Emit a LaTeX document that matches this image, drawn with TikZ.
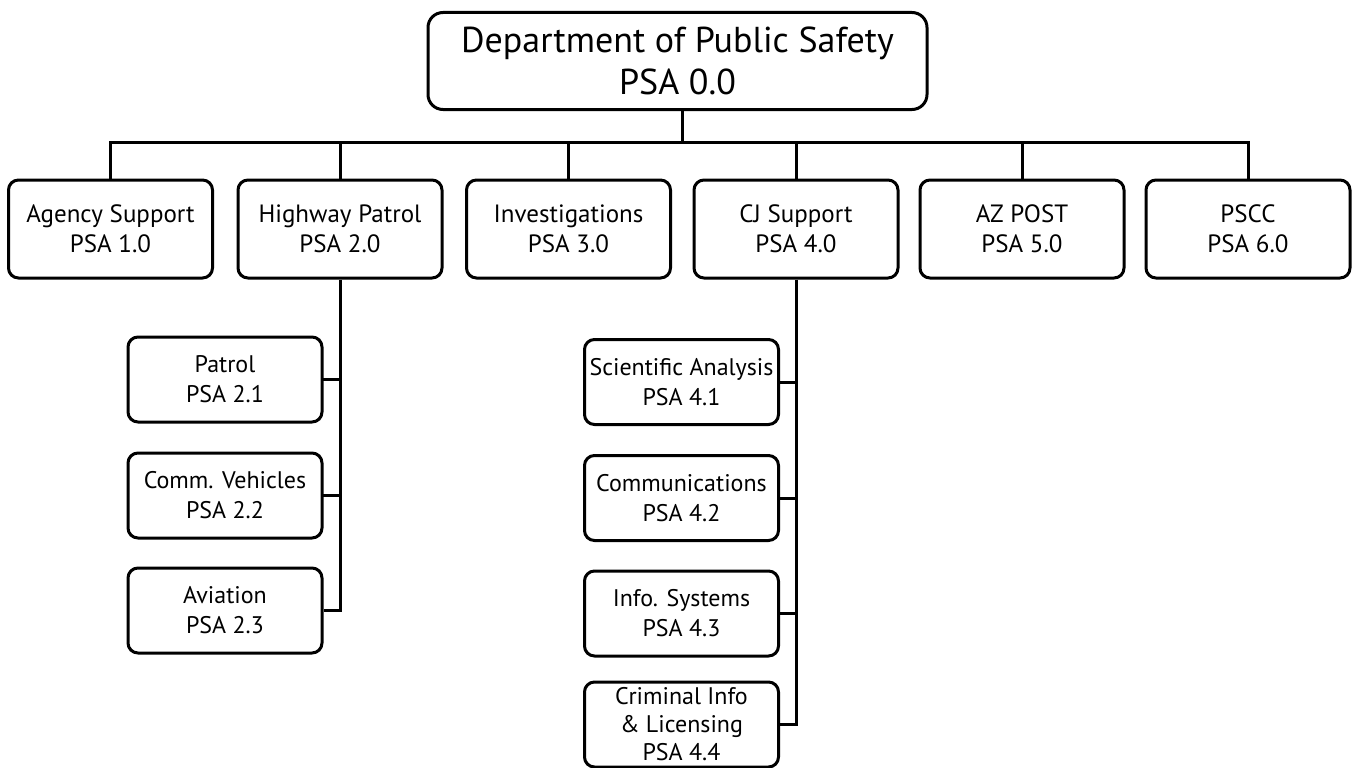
\documentclass[tikz,border=0pt]{standalone}
\usepackage{fontspec}
\setmainfont{PT Sans}
\usetikzlibrary{calc}
\begin{document}
\begin{tikzpicture}[x=1pt,y=-1pt,
  every node/.style={inner sep=0pt},
  conn/.style={line width=3pt,line cap=rect},
  box/.style={draw,line width=3pt,rounded corners=10pt,align=center,
    font=\fontsize{24}{30}\selectfont},
  topbox/.style={box,rounded corners=15pt,minimum width=499pt,minimum height=97pt,
    font=\fontsize{36}{42}\selectfont},
  lvl/.style={box,minimum width=204pt,minimum height=98pt,
    font=\fontsize{25}{30}\selectfont},
  sub/.style={box,minimum width=194pt,minimum height=85pt}]
\useasboundingbox (0,0) rectangle (1357,768);
\node[topbox] (top) at (677.5,61) {Department of Public Safety\\PSA 0.0};
\node[lvl] (b1) at (110.5,229) {Agency Support\\PSA 1.0};
\node[lvl] (b2) at (340,229) {Highway Patrol\\PSA 2.0};
\node[lvl] (b3) at (568.5,229) {Investigations\\PSA 3.0};
\node[lvl] (b4) at (796,229) {CJ Support\\PSA 4.0};
\node[lvl] (b5) at (1022,229) {AZ POST\\PSA 5.0};
\node[lvl] (b6) at (1248,229) {PSCC\\PSA 6.0};
\node[sub] (h1) at (225,379.5) {Patrol\\PSA 2.1};
\node[sub] (h2) at (225,495.5) {Comm. Vehicles\\PSA 2.2};
\node[sub] (h3) at (225,610.5) {Aviation\\PSA 2.3};
\node[sub] (c1) at (681.5,382) {Scientific Analysis\\PSA 4.1};
\node[sub] (c2) at (681.5,498) {Communications\\PSA 4.2};
\node[sub] (c3) at (681.5,613.5) {Info. Systems\\PSA 4.3};
\node[sub,font=\fontsize{24}{28}\selectfont] (c4) at (681.5,724.5) {Criminal Info\\\& Licensing\\PSA 4.4};
\coordinate (bus) at (0,142);
\coordinate (ts) at ($(top.south)+(4.5,0)$);
\draw[conn] (ts) -- (ts |- bus);
\draw[conn] (b1.north |- bus) -- (b6.north |- bus);
\foreach \b in {b1,b2,b3,b4,b5,b6} \draw[conn] (\b.north |- bus) -- (\b.north);
\draw[conn,line cap=butt] (b2.south) -- (b2.south |- h3.east) -- (h3.east);
\foreach \h in {h1,h2} \draw[conn] (\h.east) -- (\h.east -| b2.south);
\draw[conn,line cap=butt] (b4.south) -- (b4.south |- c4.east) -- (c4.east);
\foreach \c in {c1,c2,c3} \draw[conn] (\c.east) -- (\c.east -| b4.south);
\end{tikzpicture}
\end{document}
